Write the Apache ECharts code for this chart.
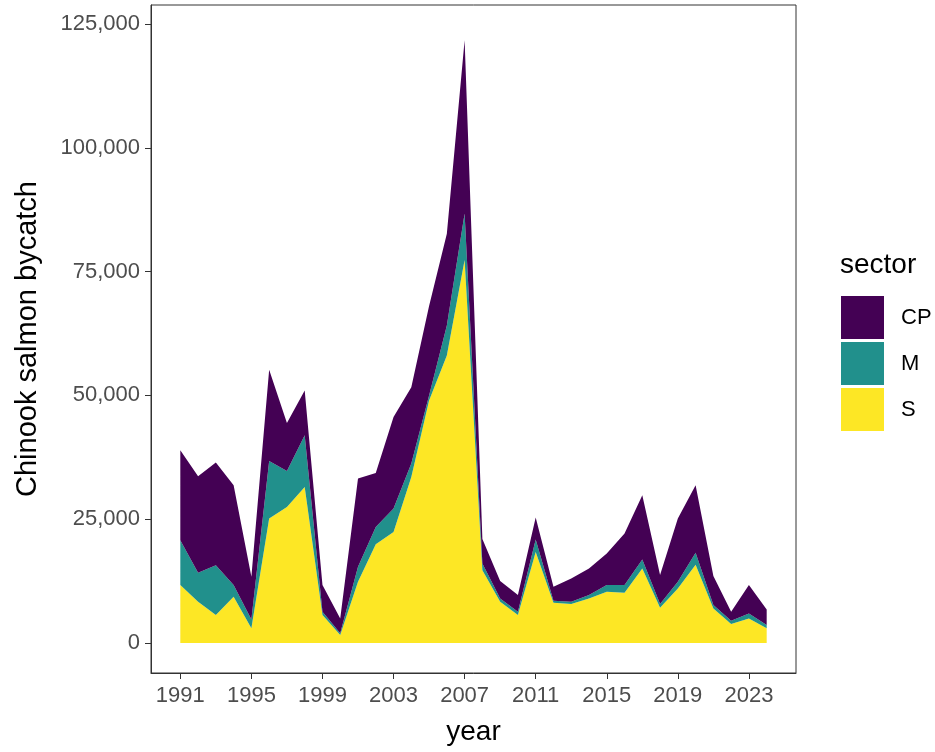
<!DOCTYPE html>
<html>
<head>
<meta charset="utf-8">
<script src="https://cdn.jsdelivr.net/npm/echarts@6/dist/echarts.min.js"></script>
<style>
  html, body { margin: 0; padding: 0; background: #ffffff; }
  #chart { width: 935px; height: 752px; }
</style>
</head>
<body>
<div id="chart"></div>
<script>
// Chinook salmon bycatch by sector, 1991-2024
const years = [1991, 1992, 1993, 1994, 1995, 1996, 1997, 1998, 1999, 2000,
  2001, 2002, 2003, 2004, 2005, 2006, 2007, 2008, 2009, 2010,
  2011, 2012, 2013, 2014, 2015, 2016, 2017, 2018, 2019, 2020,
  2021, 2022, 2023, 2024];

// Shoreside (S)
const sectorS = [11700, 8330, 5650, 9340, 2960, 25130, 27480, 31520, 5650, 1610,
  12370, 19960, 22440, 33530, 48990, 58060, 77350, 14700, 8330, 5650,
  18400, 8130, 7860, 9010, 10340, 10140, 15060, 7120, 11020, 15790,
  6990, 3830, 4970, 2960];

// Mothership (M)
const sectorM = [9070, 5840, 10070, 2360, 1810, 11630, 7260, 10410, 670, 340,
  3020, 3490, 4710, 2700, 1010, 6050, 9400, 1370, 680, 670,
  2500, 400, 470, 670, 1350, 1550, 1810, 740, 1340, 2410,
  670, 670, 1010, 670];

// Catcher-processor (CP)
const sectorCP = [18130, 19500, 20710, 20150, 8600, 18410, 9680, 9070, 5380, 3020,
  17810, 10890, 18470, 15440, 18070, 18550, 34950, 4930, 3490, 3360,
  4440, 2820, 4710, 5380, 6390, 10420, 12970, 5850, 12780, 13650,
  5850, 1820, 5710, 3160];

const xTicks = [1991, 1995, 1999, 2003, 2007, 2011, 2015, 2019, 2023];
const yTicks = [0, 25000, 50000, 75000, 100000, 125000];

const sectorNames = ['CP', 'M', 'S'];
const sectorColors = { CP: '#440154', M: '#21908C', S: '#FDE725' };

const fontFamily = '"Liberation Sans", Arial, Helvetica, sans-serif';

// value first, year second: the value dimension is the one that gets stacked
function pairs(vals) {
  return years.map((y, i) => [vals[i], y]);
}

function areaSeries(name, vals) {
  return {
    name: name,
    type: 'line',
    stack: 'total',
    data: pairs(vals),
    encode: { x: 1, y: 0 },
    showSymbol: false,
    symbol: 'none',
    lineStyle: { width: 0, color: sectorColors[name] },
    itemStyle: { color: sectorColors[name] },
    areaStyle: { color: sectorColors[name], opacity: 1 },
    emphasis: { disabled: true },
    silent: true,
    animation: false
  };
}

const chart = echarts.init(document.getElementById('chart'), null, { renderer: 'canvas' });

const option = {
  backgroundColor: '#ffffff',
  animation: false,
  textStyle: { fontFamily: fontFamily },
  grid: {
    left: 151, top: 5, width: 645, height: 668,
    show: true, borderColor: '#333333', borderWidth: 1, backgroundColor: '#ffffff',
    containLabel: false
  },
  legend: {
    orient: 'vertical',
    left: 841, top: 296,
    padding: 0,
    itemWidth: 43, itemHeight: 43, itemGap: 3,
    icon: 'rect',
    data: sectorNames,
    selectedMode: false,
    textStyle: { fontFamily: fontFamily, fontSize: 22, color: '#000000', padding: [0, 0, 0, 12] }
  },
  graphic: [{
    type: 'text',
    left: 840, top: 251,
    style: { text: 'sector', font: '28px ' + fontFamily, fill: '#000000' }
  }],
  xAxis: {
    type: 'value',
    min: 1989.35, max: 2025.65,
    name: 'year',
    nameLocation: 'middle',
    nameGap: 45,
    nameTextStyle: { fontFamily: fontFamily, fontSize: 28, color: '#000000' },
    splitLine: { show: false },
    axisLine: { show: true, onZero: false, lineStyle: { color: '#333333', width: 1 } },
    axisTick: { show: true, length: 6, lineStyle: { color: '#333333' }, customValues: xTicks },
    axisLabel: {
      show: true, margin: 12, color: '#4D4D4D', fontSize: 22, fontFamily: fontFamily,
      customValues: xTicks,
      formatter: v => String(v)
    }
  },
  yAxis: {
    type: 'value',
    min: -6058, max: 128837,
    name: 'Chinook salmon bycatch',
    nameLocation: 'middle',
    nameGap: 109,
    nameRotate: 90,
    nameTextStyle: { fontFamily: fontFamily, fontSize: 29, color: '#000000' },
    splitLine: { show: false },
    axisLine: { show: true, onZero: false, lineStyle: { color: '#333333', width: 1 } },
    axisTick: { show: true, length: 6, lineStyle: { color: '#333333' }, customValues: yTicks },
    axisLabel: {
      show: true, margin: 11, color: '#4D4D4D', fontSize: 22, fontFamily: fontFamily,
      customValues: yTicks,
      formatter: v => v.toLocaleString('en-US')
    }
  },
  series: [
    areaSeries('S', sectorS),
    areaSeries('M', sectorM),
    areaSeries('CP', sectorCP)
  ]
};

chart.setOption(option);
</script>
</body>
</html>
